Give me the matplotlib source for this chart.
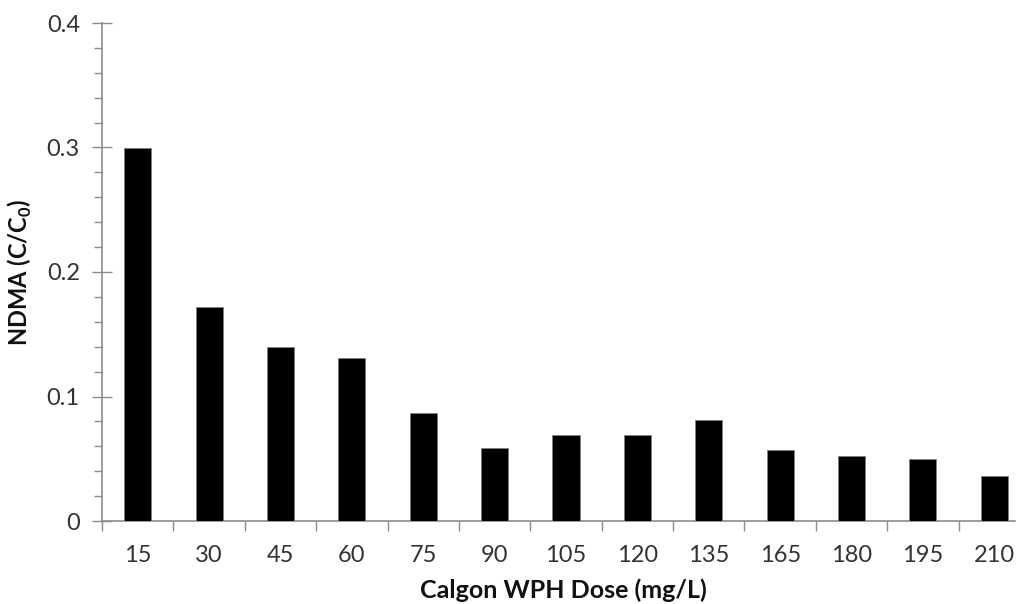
import matplotlib.pyplot as plt
import numpy as np
from matplotlib.ticker import MultipleLocator, FixedLocator, FuncFormatter

# Dose (mg/L) and normalised NDMA remaining
doses = ["15", "30", "45", "60", "75", "90", "105", "120", "135", "165", "180", "195", "210"]
ndma = [0.300, 0.172, 0.140, 0.131, 0.087, 0.059, 0.069, 0.069, 0.081, 0.057, 0.052, 0.050, 0.036]

plt.rcParams['font.family'] = ['Lato', 'DejaVu Sans']

W, H = 1017, 604
fig = plt.figure(figsize=(W / 100, H / 100), dpi=100)
ax = fig.add_axes([102 / W, 1 - 521 / H, (1015 - 102) / W, (521 - 23) / H])

x = np.arange(len(doses))
ax.bar(x, ndma, width=0.38, color='black', edgecolor='#808080', linewidth=0.6, zorder=3)

ax.set_ylim(0, 0.4)
ax.set_xlim(-0.5, 12.29)

# y axis: major every 0.1, minor every 0.02
ax.yaxis.set_major_locator(MultipleLocator(0.1))
ax.yaxis.set_minor_locator(MultipleLocator(0.02))
ax.yaxis.set_major_formatter(FuncFormatter(lambda v, p: '0' if abs(v) < 1e-9 else f'{v:.1f}'))
ax.tick_params(axis='y', which='major', direction='inout', length=14, width=1, color='#8c8c8c',
               labelsize=17, labelcolor='#333333', pad=9)
ax.tick_params(axis='y', which='minor', direction='out', length=6, width=1, color='#8c8c8c')

# x axis: labels at category centres, tick marks between categories
ax.set_xticks(x)
ax.set_xticklabels(doses)
ax.xaxis.set_minor_locator(FixedLocator(np.arange(-0.5, 13, 1.0)))
ax.tick_params(axis='x', which='major', length=0, labelsize=17, labelcolor='#333333', pad=17)
ax.tick_params(axis='x', which='minor', direction='out', length=7, width=1, color='#8c8c8c')

for side in ['top', 'right']:
    ax.spines[side].set_visible(False)
for side in ['left', 'bottom']:
    ax.spines[side].set_color('#8c8c8c')
    ax.spines[side].set_linewidth(1.2)

# axis titles placed in figure pixels
fig.text(563 / W, 1 - 598 / H, "Calgon WPH Dose (mg/L)", fontsize=18, fontweight='bold',
         color='#111111', ha='center', va='baseline')
fig.text(20 / W, 1 - 272 / H, "NDMA (C/C$_\\mathregular{0}$)", fontsize=17, fontweight='bold',
         color='#111111', ha='center', va='center', rotation=90)

fig.savefig("out.png", dpi=100)
